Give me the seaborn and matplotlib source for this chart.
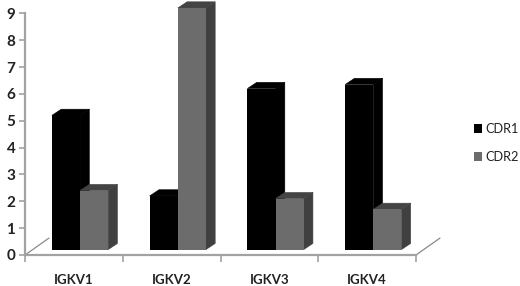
import matplotlib
matplotlib.use("Agg")
import matplotlib.pyplot as plt
from matplotlib.patches import Polygon
import pandas as pd
import seaborn as sns

categories = ["IGKV1", "IGKV2", "IGKV3", "IGKV4"]
cdr1 = [5.0, 2.0, 6.0, 6.15]
cdr2 = [2.2, 9.0, 1.9, 1.5]
y_ticks = list(range(10))

W, H = 520, 286
AXIS_COLOR = "#a2a2a2"
FRONT = {"CDR1": "#000000", "CDR2": "#6c6c6c"}
SIDE = {"CDR1": "#000000", "CDR2": "#404040"}
TOP = {"CDR1": "#000000", "CDR2": "#444444"}
BASE, DX, DY, SHIFT = 0.2, 0.095, 0.23, 0.063

sns.set_theme(style="white")
plt.rcParams["font.family"] = ["Lato", "DejaVu Sans"]

df = pd.DataFrame({
    "category": categories * 2,
    "value": cdr1 + cdr2,
    "series": ["CDR1"] * 4 + ["CDR2"] * 4,
})

fig = plt.figure(figsize=(W / 100, H / 100), dpi=100)
ax = fig.add_axes([25 / W, (H - 255) / H, 391 / W, 255 / H])
ax.patch.set_alpha(0)

sns.barplot(data=df, x="category", y="value", hue="series", order=categories,
            hue_order=["CDR1", "CDR2"], palette=FRONT, width=0.575, gap=0,
            bottom=BASE, errorbar=None, legend=False, saturation=1, linewidth=0, ax=ax)

ax.set_xlim(-0.5, 3.5)
ax.set_ylim(0, 255 / 26.85)

# extrude each bar into a 3D-looking column
for container, name in zip(ax.containers, ["CDR1", "CDR2"]):
    for p in container:
        p.set_x(p.get_x() + SHIFT)
        x0, x1 = p.get_x(), p.get_x() + p.get_width()
        y0, y1 = p.get_y(), p.get_y() + p.get_height()
        z = 2 if name == "CDR1" else 4
        p.set_zorder(z + 1)
        ax.add_patch(Polygon([(x1, y0), (x1 + DX, y0 + DY), (x1 + DX, y1 + DY), (x1, y1)],
                             closed=True, fc=SIDE[name], ec=SIDE[name], lw=0.4, zorder=z, clip_on=False))
        ax.add_patch(Polygon([(x0, y1), (x0 + DX, y1 + DY), (x1 + DX, y1 + DY), (x1, y1)],
                             closed=True, fc=TOP[name], ec=TOP[name], lw=0.4, zorder=z, clip_on=False))

for side in ("top", "right"):
    ax.spines[side].set_visible(False)
for side in ("left", "bottom"):
    ax.spines[side].set_color(AXIS_COLOR)
    ax.spines[side].set_linewidth(1.6)
ax.spines["left"].set_bounds(0, 9)

ax.set_yticks(y_ticks)
ax.set_yticklabels([str(v) for v in y_ticks], fontsize=11, fontweight="bold", color="#222222")
ax.tick_params(axis="y", left=True, length=4, width=1.2, color=AXIS_COLOR, pad=3)

# ticks between the categories; labels centred under each group
ax.set_xticks([-0.5, 0.5, 1.5, 2.5, 3.5])
ax.set_xticklabels([])
ax.set_xticks(range(4), labels=categories, minor=True)
ax.tick_params(axis="x", which="major", bottom=True, length=5, width=1.2, color=AXIS_COLOR)
ax.tick_params(axis="x", which="minor", bottom=False, pad=9.5, labelsize=9.5, labelcolor="#222222")
for t in ax.get_xticklabels(minor=True):
    t.set_fontweight("bold")
ax.set_xlabel("")
ax.set_ylabel("")

# floor edges
for x_edge in (-0.5, 3.5):
    ax.plot([x_edge, x_edge + 0.245], [0, 0.63], color="#8a8a8a", lw=0.9, clip_on=False, zorder=1)

handles = [plt.Rectangle((0, 0), 1, 1, fc=FRONT[k], ec="none") for k in ("CDR1", "CDR2")]
fig.legend(handles, ["CDR1", "CDR2"], loc="center left",
           bbox_to_anchor=(462 / W, (H - 143) / H), frameon=False, fontsize=9.2,
           handlelength=0.63, handleheight=0.7, handletextpad=0.31, labelspacing=1.19,
           labelcolor="#222222")

fig.savefig("out.png", dpi=100, facecolor="white")
